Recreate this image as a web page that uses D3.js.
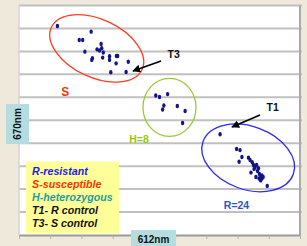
<!DOCTYPE html>
<html><head><meta charset="utf-8">
<script src="https://cdn.jsdelivr.net/npm/d3@7"></script>
<style>
html,body{margin:0;padding:0;background:#efe9dc;}
svg{display:block;}
text{font-family:"Liberation Sans",Arial,sans-serif;font-weight:bold;}
</style></head>
<body>
<svg id="c" width="307" height="246"></svg>
<script>
// Data (grid units: x = 612nm, y = 670nm)
const xTicks = [0,1,2,3,4,5,6,7,8,9];
const yTicks = [0,1,2,3,4,5,6,7,8,9,10];
const sX = [1.23,2.31,1.93,2.04,2.11,2.63,2.50,2.58,2.65,2.70,2.35,2.33,2.68,2.90,2.90,3.12,3.16,3.11,3.50,2.94,3.43];
const sY = [9.11,8.86,8.50,8.50,7.99,8.32,8.09,8.04,8.14,7.95,7.70,7.63,7.73,7.79,7.63,7.80,7.80,7.48,7.55,7.09,7.10];
const hX = [4.38,4.50,4.76,4.64,4.60,5.07,5.32,5.24];
const hY = [6.08,6.01,6.14,5.64,5.47,5.62,5.40,4.88];
const rX = [6.44,6.97,7.08,7.14,7.05,7.35,7.40,7.47,7.51,7.56,7.61,7.67,7.43,7.70,7.74,7.78,7.78,7.69,7.59,7.74,7.95,7.64,7.53,7.82];
const rY = [4.39,3.75,3.70,3.40,3.19,3.37,3.27,3.17,3.05,2.96,3.05,2.91,2.72,2.66,2.55,2.59,2.46,2.46,2.53,2.38,2.14,2.79,2.88,2.53];
const groupNames = ["S","H","R"];
const groupLabels = ["S","H=8","R=24"];
const groupColors = ["#ff3b1f","#99c93a","#2a2af0"];
const labelColors = ["#ff3300","#99cc00","#2f55b8"];
const ellCX = [2.49,4.82,7.34];
const ellCY = [8.13,5.56,3.36];
const ellRX = [50,26.5,48];
const ellRY = [29,29,31.5];
const ellRot = [25,0,20];
const labelX = [1.35,3.53,6.56];
const labelY = [6.05,4.0,1.14];
const legendItems = ["R-resistant","S-susceptible","H-heterozygous","T1- R control","T3- S control"];
const legendColors = ["#1c1ce6","#ff3300","#1a9d9d","#111","#111"];
const arrowNames = ["T3","T1"];
const arrowFromX = [4.55,7.72];
const arrowFromY = [7.58,5.23];
const arrowToX = [3.65,6.82];
const arrowToY = [7.15,4.71];
const xTitle = "612nm", yTitle = "670nm";

const svg = d3.select("#c");
const x = d3.scaleLinear().domain([0,9]).range([19,300]);
const y = d3.scaleLinear().domain([0,10]).range([235,5.5]);

// plot area
svg.append("rect").attr("x",x(0)).attr("y",y(10)).attr("width",x(9)-x(0)).attr("height",y(0)-y(10)).attr("fill","#ffffff");
// gridlines
svg.append("g").selectAll("line").data(yTicks.filter(d=>d>0)).join("line")
  .attr("x1",x(0)).attr("x2",x(9)+2).attr("y1",d=>y(d)).attr("y2",d=>y(d))
  .attr("stroke","#c0c0c0").attr("stroke-width",2);
// left & right borders
svg.append("line").attr("x1",x(0)).attr("x2",x(0)).attr("y1",y(10)).attr("y2",y(0)).attr("stroke","#d4d4d4").attr("stroke-width",1.5);
svg.append("line").attr("x1",x(9)).attr("x2",x(9)).attr("y1",y(10)).attr("y2",y(0)).attr("stroke","#aaaaaa").attr("stroke-width",2);
// bottom axis
const xa = svg.append("g").attr("transform",`translate(0,${y(0)})`)
  .call(d3.axisBottom(x).tickValues(xTicks).tickSize(4).tickSizeOuter(0).tickFormat(""));
xa.select(".domain").attr("stroke","#9a9a9a").attr("stroke-width",2);
xa.selectAll(".tick line").attr("stroke","#b0b0b0");

// ellipses
const groups = groupNames.map((n,i)=>({i}));
svg.append("g").selectAll("ellipse").data(groups).join("ellipse")
  .attr("cx",0).attr("cy",0).attr("rx",d=>ellRX[d.i]).attr("ry",d=>ellRY[d.i])
  .attr("transform",d=>`translate(${x(ellCX[d.i])},${y(ellCY[d.i])}) rotate(${ellRot[d.i]})`)
  .attr("fill","none").attr("stroke",d=>groupColors[d.i]).attr("stroke-width",1.3);

// points
const pts = [];
sX.forEach((v,i)=>pts.push([v,sY[i]]));
hX.forEach((v,i)=>pts.push([v,hY[i]]));
rX.forEach((v,i)=>pts.push([v,rY[i]]));
svg.append("g").selectAll("ellipse").data(pts).join("ellipse")
  .attr("cx",d=>x(d[0])).attr("cy",d=>y(d[1])).attr("rx",1.7).attr("ry",2.2)
  .attr("fill","#14148a");

// group labels
svg.append("g").selectAll("text").data(groups).join("text")
  .attr("x",d=>x(labelX[d.i])).attr("y",d=>y(labelY[d.i]))
  .attr("fill",d=>labelColors[d.i]).attr("font-size",d=>d.i===0?12:10.5)
  .text(d=>groupLabels[d.i]);

// arrows
const defs = svg.append("defs");
defs.append("marker").attr("id","ah").attr("viewBox","0 0 10 10").attr("refX",9).attr("refY",5)
  .attr("markerWidth",5).attr("markerHeight",5).attr("orient","auto")
  .append("path").attr("d","M0,0L10,5L0,10z").attr("fill","#000");
arrowNames.forEach((n,i)=>{
  svg.append("line").attr("x1",x(arrowFromX[i])).attr("y1",y(arrowFromY[i]))
    .attr("x2",x(arrowToX[i])).attr("y2",y(arrowToY[i]))
    .attr("stroke","#000").attr("stroke-width",1.6).attr("marker-end","url(#ah)");
  svg.append("text").attr("x",x(arrowFromX[i])+6.5).attr("y",y(arrowFromY[i])-3.5)
    .attr("font-size",10.5).attr("fill","#111").text(n);
});

// legend
const lg = svg.append("g");
lg.append("rect").attr("x",26).attr("y",161.5).attr("width",93).attr("height",72).attr("fill","#ffff99");
lg.selectAll("text").data(legendItems).join("text")
  .attr("x",32).attr("y",(d,i)=>175+i*13.1)
  .attr("font-size",10.7).attr("font-style","italic").attr("fill",(d,i)=>legendColors[i])
  .text(d=>d);

// axis titles
svg.append("rect").attr("x",131).attr("y",230).attr("width",45).attr("height",16).attr("fill","#b5dde0");
svg.append("text").attr("x",153.5).attr("y",242.5).attr("text-anchor","middle").attr("font-size",10).attr("fill","#111").text(xTitle);
svg.append("rect").attr("x",6).attr("y",104).attr("width",23).attr("height",40).attr("fill","#b5dde0");
svg.append("text").attr("transform","translate(21,124) rotate(-90)").attr("text-anchor","middle").attr("font-size",10).attr("fill","#111").text(yTitle);
</script>
</body></html>
